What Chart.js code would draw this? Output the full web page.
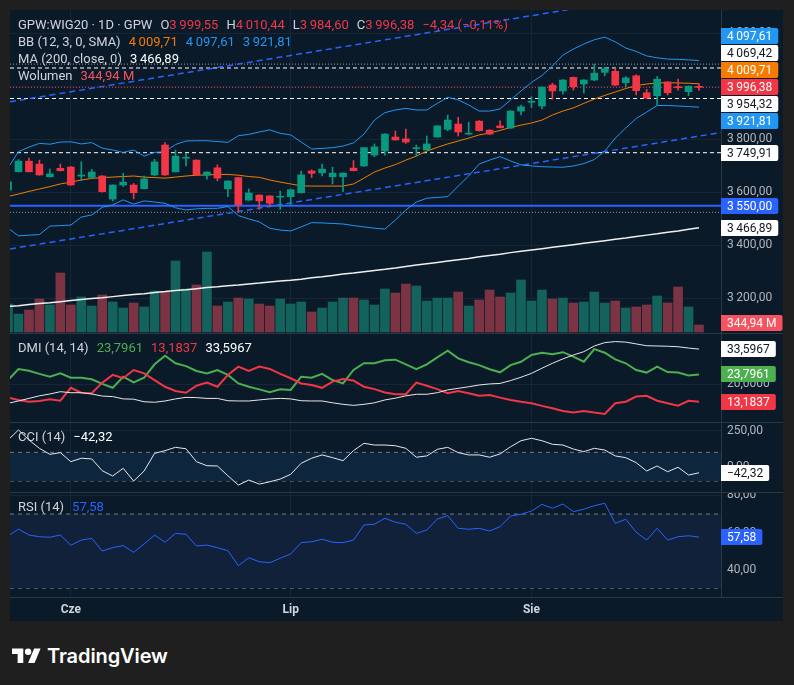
<!DOCTYPE html>
<html>
<head>
<meta charset="utf-8">
<script src="https://cdn.jsdelivr.net/npm/chart.js@4.4.1/dist/chart.umd.min.js"></script>
<style>
html,body{margin:0;padding:0;width:794px;height:685px;overflow:hidden;background:#1f1f1f;font-family:Roboto,"Noto Sans",sans-serif}
#panel{position:absolute;left:10px;top:10px;width:773px;height:611px;background:#0b1a29}
canvas.pane{position:absolute;left:10px}
.sep{position:absolute;left:10px;width:773px;height:1px;background:#2a3846}
.lg{position:absolute;left:18px;height:16px;line-height:16px;font-size:13px;color:#d1d4dc;white-space:nowrap}
.lg .k{margin-left:8px}
.lg .v{margin-left:8px}
#logo{position:absolute;left:12px;top:644px;height:24px;display:flex;align-items:center}
#logo span{margin-left:6px;font:600 20px Inter,"Open Sans",sans-serif;color:#fff;letter-spacing:-0.1px}
</style>
</head>
<body>
<div id="panel"></div>
<canvas id="cMain" class="pane" style="top:10px" width="773" height="323"></canvas>
<canvas id="cDmi" class="pane" style="top:334px" width="773" height="88"></canvas>
<canvas id="cCci" class="pane" style="top:423px" width="773" height="69"></canvas>
<canvas id="cRsi" class="pane" style="top:493px" width="773" height="128"></canvas>
<div class="sep" style="top:333px"></div>
<div class="sep" style="top:422px"></div>
<div class="sep" style="top:492px"></div>
<div class="sep" style="top:597px"></div>

<div class="lg" style="top:17px">GPW:WIG20 · 1D · GPW<span class="k">O</span><span id="vO" style="color:#f23645"></span><span class="k">H</span><span id="vH" style="color:#f23645"></span><span class="k">L</span><span id="vL" style="color:#f23645"></span><span class="k">C</span><span id="vC" style="color:#f23645"></span><span class="v" id="vChg" style="color:#f23645"></span></div>
<div class="lg" style="top:34px">BB (12, 3, 0, SMA)<span class="v" id="vBbM" style="color:#f57c00"></span><span class="v" id="vBbU" style="color:#2196f3"></span><span class="v" id="vBbL" style="color:#2196f3"></span></div>
<div class="lg" style="top:51px">MA (200, close, 0)<span class="v" id="vMa" style="color:#ffffff"></span></div>
<div class="lg" style="top:68px">Wolumen<span class="v" id="vVol" style="color:#f7525f"></span></div>
<div class="lg" style="top:340px">DMI (14, 14)<span class="v" id="vPdi" style="color:#4caf50"></span><span class="v" id="vMdi" style="color:#f23645"></span><span class="v" id="vAdx" style="color:#ffffff"></span></div>
<div class="lg" style="top:429px">CCI (14)<span class="v" id="vCci" style="color:#ffffff"></span></div>
<div class="lg" style="top:499px">RSI (14)<span class="v" id="vRsi" style="color:#2962ff"></span></div>

<div id="logo"><svg width="29" height="23" viewBox="0 0 36 28"><path fill="#fff" d="M14 22H7V11H0V4h14v18ZM28 22h-8l7.5-18h8L28 22Z"/><circle fill="#fff" cx="20" cy="8" r="4"/></svg><span>TradingView</span></div>

<script>
// daily candles, June - August (index = trading day)
var opens  = [3609,3678,3718,3707,3659,3691,3696,3662,3657,3662, 3575,3628,3628,3614,3666,3779,3678,3729,3722,3665, 3693,3614,3656,3571,3590,3587,3582,3584,3599,3681, 3674,3659,3659,3692,3700,3741,3756,3809,3802,3765, 3760,3809,3838,3858,3820,3869,3835,3851,3843,3907, 3940,3926,4005,3983,4034,4009,4024,4053,4057,4014, 4040,3976,3965,4017,3999,3980,3999.55];
var highs  = [3651,3724,3730,3722,3688,3707,3698,3716,3687,3664, 3629,3672,3634,3662,3725,3788,3760,3748,3723,3678, 3704,3644,3657,3613,3591,3588,3605,3613,3681,3685, 3707,3695,3674,3720,3770,3783,3822,3832,3839,3779, 3813,3852,3892,3883,3865,3871,3837,3870,3909,3930, 3961,3998,4012,4026,4036,4026,4084,4072,4068,4037, 4044,3989,4037,4018,4028,4002,4010.44];
var lows   = [3602,3677,3677,3665,3659,3681,3627,3644,3653,3601, 3568,3622,3576,3613,3662,3664,3677,3700,3665,3650, 3644,3584,3525,3570,3536,3546,3536,3553,3597,3656, 3662,3632,3603,3681,3698,3735,3741,3797,3785,3737, 3759,3808,3833,3813,3817,3831,3818,3843,3841,3892, 3920,3915,3952,3971,3986,3974,4022,4040,4003,3999, 3968,3955,3930,3968,3986,3965,3984.60];
var closes = [3640,3718,3678,3666,3670,3682,3628,3665,3677,3603, 3628,3639,3599,3651,3715,3666,3737,3731,3666,3677, 3654,3643,3553,3598,3568,3559,3585,3610,3666,3672, 3688,3673,3673,3682,3769,3772,3820,3798,3790,3768, 3783,3851,3873,3828,3823,3833,3820,3844,3907,3923, 3944,3997,3983,4024,3999,4024,4050,4067,4005,4032, 3984,3956,4027,3976,3995,4000.72,3996.38];

// volume in millions
var volume = [1380,887,1085,1627,1331,2909,1331,1726,1282,1824, 1479,1183,1430,1233,2021,1972,3500,2120,2317,3944, 1282,1479,1676,1627,1380,1282,1627,1380,1479,986, 1183,1479,1676,1676,1578,1331,2120,1923,2366,2268, 1528,1676,1676,1972,1282,1578,2071,1726,1923,2564, 1528,2071,1627,1676,1430,1479,1972,1430,1528,1183, 1233,1331,1775,1430,2219,1233,344.94];

// Bollinger (12, 3)
var bbBasis = [3585,3594,3604,3613,3622,3632,3639,3647,3653,3656, 3658,3660,3662,3658,3656,3654,3658,3662,3665,3666, 3668,3668,3665,3660,3657,3647,3639,3632,3625,3624, 3624,3624,3624,3632,3654,3677,3692,3705,3722,3737, 3756,3770,3783,3794,3805,3817,3824,3834,3845,3854, 3862,3873,3892,3907,3919,3936,3952,3966,3979,3992, 4003,4009,4013,4014,4013,4012,4009.71];
var bbUpper = [3692,3754,3771,3785,3782,3790,3791,3783,3788,3767, 3760,3751,3760,3737,3751,3754,3781,3794,3795,3795, 3792,3789,3814,3819,3828,3836,3823,3817,3790,3764, 3766,3769,3775,3787,3820,3873,3901,3911,3917,3911, 3911,3936,3959,3949,3930,3907,3907,3915,3949,3983, 4015,4041,4077,4118,4141,4160,4176,4186,4168,4145, 4132,4115,4108,4103,4102,4100,4097.61];
var bbLower = [3466,3436,3439,3441,3473,3475,3477,3507,3515,3544, 3553,3572,3556,3568,3564,3559,3542,3534,3538,3540, 3540,3547,3513,3500,3489,3465,3458,3455,3470,3486, 3485,3483,3481,3475,3470,3465,3462,3496,3534,3564, 3578,3581,3584,3624,3662,3707,3722,3735,3719,3704, 3700,3697,3696,3695,3700,3709,3724,3756,3805,3843, 3879,3903,3928,3928,3926,3924,3921.81];

// MA 200
var ma200 = [3170,3173,3177,3181,3184,3188,3192,3196,3200,3203, 3207,3211,3215,3218,3223,3226,3230,3233,3237,3241, 3244,3248,3251,3255,3258,3262,3266,3269,3273,3278, 3282,3287,3292,3296,3301,3306,3310,3315,3321,3326, 3331,3336,3341,3346,3351,3357,3362,3367,3373,3378, 3383,3388,3393,3398,3403,3408,3413,3418,3423,3428, 3434,3439,3444,3450,3455,3461,3466.89];

// DMI (14, 14)
var plusDI  = [21.6,25.9,25.2,24.0,22.9,24.2,22.5,22.5,21.9,20.1, 18.6,22.9,20.7,22.5,27.7,31.0,28.1,27.0,25.1,24.2, 25.5,23.6,20.3,19.0,18.0,16.9,18.0,17.8,22.9,22.5, 24.0,21.6,20.3,25.5,28.1,28.1,29.3,29.5,27.7,25.8, 27.7,30.4,33.0,30.0,28.5,27.4,25.8,24.6,27.4,28.7, 31.3,32.2,31.6,32.4,30.7,28.7,33.6,32.2,29.6,28.1, 25.5,24.5,26.8,24.7,24.5,23.4,23.7961];
var minusDI = [14.8,13.9,13.2,13.5,14.2,13.6,18.6,16.7,16.5,20.6, 23.6,22.3,25.5,24.2,21.6,19.0,17.4,16.7,19.4,20.6, 19.0,23.6,26.8,25.1,26.8,25.9,24.0,22.3,20.3,19.7, 18.6,21.0,22.0,21.4,19.0,18.1,16.8,16.1,16.1,20.6, 19.4,18.1,16.5,17.4,16.5,15.5,15.8,14.8,13.9,13.2, 12.6,11.6,10.7,9.6,9.0,9.6,9.0,8.5,12.6,13.2, 15.2,15.5,13.6,12.6,11.7,13.6,13.1837];
var adx     = [12.6,13.5,14.5,15.5,16.2,17.1,16.7,16.7,16.2,15.4, 15.2,14.3,14.2,13.2,13.0,13.5,14.3,14.9,14.8,14.5, 14.5,13.6,13.5,13.5,13.9,14.3,14.5,14.3,13.6,13.5, 13.5,12.8,12.2,11.8,12.2,12.8,13.9,14.6,15.5,16.1, 16.1,16.7,17.8,18.4,19.0,19.7,20.1,20.3,21.4,22.7, 24.2,26.2,28.1,29.8,31.3,32.6,34.8,36.1,36.5,36.3, 35.6,34.9,34.8,34.7,34.5,34.0,33.5967];

// CCI (14)
var cci = [186,256,186,128,86,98,35,59,54,-28, -65,-11,-100,-30,93,112,135,125,35,7, 5,-63,-128,-93,-121,-105,-86,-53,24,59, 82,63,42,112,163,151,151,146,128,66, 75,121,135,98,82,82,66,89,139,181, 198,181,156,151,123,105,128,116,75,63, 28,-30,5,-35,-4,-58,-42.32];

// RSI (14)
var rsi = [58.2,61.9,58.7,57.8,57.5,58.7,53.2,56.0,56.9,50.1, 51.9,53.0,49.4,53.9,58.7,54.8,59.6,59.1,52.8,53.3, 51.9,50.3,42.2,46.5,44.3,43.8,46.2,48.5,54.6,55.1, 56.4,54.8,54.6,56.0,64.1,64.5,67.7,65.6,64.5,59.6, 61.4,67.3,69.1,62.3,61.8,62.3,60.9,63.2,68.9,69.9, 71.6,75.2,73.1,75.4,71.3,72.6,74.5,75.8,65.0,67.2, 60.2,56.0,62.3,56.0,57.8,58.3,57.58];

// drawings: horizontal levels and a rising channel (price at left / right edge)
var whiteLevels = [4069.42, 3954.32, 3749.91];
var blueLevel = 3550;
var channelTop = [3942, 4385];
var channelBottom = [3387, 3826];

// time axis
var monthIdx = [6, 27, 50];
var monthNames = ['Cze', 'Lip', 'Sie'];

// price axis ticks
var mainTicks = [3200, 3400, 3600, 3800, 4000, 4200];
var dmiTicks = [20];
var cciTicks = [0, 250];
var rsiTicks = [40, 60, 80];

var FONT = 'Roboto, "Noto Sans", sans-serif';
var GRID = '#172636';
var SEP = '#2a3846';
var UP = '#089981', DOWN = '#f23645';
var xMin = 0.19, xMax = 68.1;
var last = closes.length - 1;

function fmt(v, d) {
    var neg = v < 0;
    var parts = Math.abs(v).toFixed(d).split('.');
    var a = parts[0].replace(/\B(?=(\d{3})+(?!\d))/g, '\u2009');
    return (neg ? '\u2212' : '') + a + (parts[1] !== undefined ? ',' + parts[1] : '');
}

// legend values
document.getElementById('vO').textContent = fmt(opens[last], 2);
document.getElementById('vH').textContent = fmt(highs[last], 2);
document.getElementById('vL').textContent = fmt(lows[last], 2);
document.getElementById('vC').textContent = fmt(closes[last], 2);
var chg = closes[last] - closes[last - 1];
document.getElementById('vChg').textContent = fmt(chg, 2) + ' (' + fmt(chg / closes[last - 1] * 100, 2) + '%)';
document.getElementById('vBbM').textContent = fmt(bbBasis[last], 2);
document.getElementById('vBbU').textContent = fmt(bbUpper[last], 2);
document.getElementById('vBbL').textContent = fmt(bbLower[last], 2);
document.getElementById('vMa').textContent = fmt(ma200[last], 2);
document.getElementById('vVol').textContent = fmt(volume[last], 2) + ' M';
document.getElementById('vPdi').textContent = fmt(plusDI[last], 4);
document.getElementById('vMdi').textContent = fmt(minusDI[last], 4);
document.getElementById('vAdx').textContent = fmt(adx[last], 4);
document.getElementById('vCci').textContent = fmt(cci[last], 2);
document.getElementById('vRsi').textContent = fmt(rsi[last], 2);

Chart.defaults.font.family = FONT;

function timeScale(showLabels) {
    return {
        type: 'linear', min: xMin, max: xMax, offset: false,
        grid: { color: GRID, drawTicks: false, offset: false },
        border: { display: false },
        ticks: {
            display: showLabels, color: '#d1d4dc', padding: 6, maxRotation: 0, autoSkip: false,
            font: { size: 12, weight: 'bold', family: FONT },
            callback: function(v) { return monthNames[monthIdx.indexOf(v)]; }
        },
        afterBuildTicks: function(s) { s.ticks = monthIdx.map(function(v) { return { value: v }; }); },
        afterFit: function(s) { s.height = showLabels ? 24 : 0; s.paddingLeft = 0; s.paddingRight = 0; }
    };
}

function priceScale(min, max, ticks, dec) {
    return {
        position: 'right', min: min, max: max,
        grid: { color: GRID, drawTicks: false },
        border: { display: true, color: SEP },
        ticks: {
            color: '#b2b5be', padding: 6, autoSkip: false,
            font: { size: 12, family: FONT },
            callback: function(v) { return fmt(v, dec); }
        },
        afterBuildTicks: function(s) { s.ticks = ticks.map(function(v) { return { value: v }; }); },
        afterFit: function(s) { s.width = 62; s.paddingTop = 0; s.paddingBottom = 0; }
    };
}

function series(vals, color, width, extra) {
    var ds = {
        type: 'line', data: vals.map(function(v, i) { return { x: i, y: v }; }),
        borderColor: color, borderWidth: width, pointRadius: 0, tension: 0, fill: false, order: 3
    };
    return Object.assign(ds, extra || {});
}

function hline(v, color, width, dash, extra) {
    var ds = {
        type: 'line', data: [{ x: xMin, y: v }, { x: xMax, y: v }],
        borderColor: color, borderWidth: width, borderDash: dash || [], pointRadius: 0, fill: false, order: 4
    };
    return Object.assign(ds, extra || {});
}

// coloured value boxes on the price axis
function boxLabels(getItems) {
    return {
        id: 'boxLabels',
        afterDraw: function(chart) {
            var list = getItems(chart);
            var ctx = chart.ctx, area = chart.chartArea;
            list.sort(function(a, b) { return a.y - b.y; });
            var k = list.findIndex(function(l) { return l.anchor; });
            if (k >= 0) {
                for (var j = k - 1; j >= 0; j--) list[j].y = Math.min(list[j].y, list[j + 1].y - 17);
                for (var j2 = k + 1; j2 < list.length; j2++) list[j2].y = Math.max(list[j2].y, list[j2 - 1].y + 17);
            }
            ctx.save();
            ctx.font = '12px ' + FONT;
            ctx.textBaseline = 'middle';
            list.forEach(function(l) {
                var w = ctx.measureText(l.text).width + 12;
                ctx.fillStyle = l.bg;
                ctx.beginPath();
                ctx.roundRect(area.right, Math.round(l.y) - 8, w, 16, [0, 2, 2, 0]);
                ctx.fill();
                ctx.fillStyle = l.fg;
                ctx.fillText(l.text, area.right + 6, Math.round(l.y) + 0.5);
            });
            ctx.restore();
        }
    };
}

function baseOptions(scales) {
    return {
        responsive: false, animation: false, events: [],
        layout: { padding: 0 },
        plugins: { legend: { display: false }, tooltip: { enabled: false } },
        scales: scales
    };
}

var isUp = closes.map(function(c, i) { return c >= opens[i]; });
var candleColors = isUp.map(function(u) { return u ? UP : DOWN; });
var volColors = isUp.map(function(u) { return u ? '#13625c' : '#7c3444'; });
var hiMax = Math.max.apply(null, highs);
var loMin = Math.min.apply(null, lows);

// main pane
new Chart(document.getElementById('cMain'), {
    type: 'bar',
    data: {
        datasets: [
            { type: 'bar', yAxisID: 'yv', data: volume.map(function(v, i) { return { x: i, y: v }; }),
              backgroundColor: volColors, barThickness: 9, grouped: false, order: 10 },
            series(bbUpper, '#2196f3', 1),
            series(bbLower, '#2196f3', 1),
            series(bbBasis, '#f57c00', 1),
            series(ma200, '#f0f0f0', 1.5),
            { type: 'line', data: [{ x: xMin, y: channelTop[0] }, { x: xMax, y: channelTop[1] }],
              borderColor: '#2962ff', borderWidth: 1.5, borderDash: [6, 4], pointRadius: 0, fill: false, order: 4 },
            { type: 'line', data: [{ x: xMin, y: channelBottom[0] }, { x: xMax, y: channelBottom[1] }],
              borderColor: '#2962ff', borderWidth: 1.5, borderDash: [6, 4], pointRadius: 0, fill: false, order: 4 },
            hline(whiteLevels[0], '#ffffff', 1, [4, 3]),
            hline(whiteLevels[1], '#ffffff', 1, [4, 3]),
            hline(whiteLevels[2], '#ffffff', 1, [4, 3]),
            hline(hiMax, '#9598a1', 1, [1, 2]),
            hline(loMin, '#9598a1', 1, [1, 2]),
            hline(blueLevel, '#2962ff', 2, []),
            hline(closes[last], '#f23645', 1, [1, 2]),
            { type: 'bar', data: lows.map(function(l, i) { return { x: i, y: [l, highs[i]] }; }),
              backgroundColor: candleColors, barThickness: 1, grouped: false, order: 1 },
            { type: 'bar', data: opens.map(function(o, i) { return { x: i, y: [o, closes[i]] }; }),
              backgroundColor: candleColors, barThickness: 7, minBarLength: 1, grouped: false, order: 0 }
        ]
    },
    options: baseOptions({
        x: timeScale(false),
        y: priceScale(3069.8, 4288.2, mainTicks, 2),
        yv: { display: false, min: -49.3, max: 15875 }
    }),
    plugins: [boxLabels(function(chart) {
        var y = chart.scales.y, yv = chart.scales.yv;
        var white = '#ffffff', dark = '#131722';
        var items = [
            { y: y.getPixelForValue(bbUpper[last]), text: fmt(bbUpper[last], 2), bg: '#2196f3', fg: white },
            { y: y.getPixelForValue(whiteLevels[0]), text: fmt(whiteLevels[0], 2), bg: white, fg: dark },
            { y: y.getPixelForValue(bbBasis[last]), text: fmt(bbBasis[last], 2), bg: '#f57c00', fg: white },
            { y: y.getPixelForValue(closes[last]), text: fmt(closes[last], 2), bg: '#f23645', fg: white, anchor: true },
            { y: y.getPixelForValue(whiteLevels[1]), text: fmt(whiteLevels[1], 2), bg: white, fg: dark },
            { y: y.getPixelForValue(bbLower[last]), text: fmt(bbLower[last], 2), bg: '#2196f3', fg: white },
            { y: y.getPixelForValue(whiteLevels[2]), text: fmt(whiteLevels[2], 2), bg: white, fg: dark },
            { y: y.getPixelForValue(blueLevel), text: fmt(blueLevel, 2), bg: '#2962ff', fg: white },
            { y: y.getPixelForValue(ma200[last]), text: fmt(ma200[last], 2), bg: white, fg: dark }
        ];
        var vy = Math.min(yv.getPixelForValue(volume[last]), chart.chartArea.bottom - 10);
        items.push({ y: vy, text: fmt(volume[last], 2) + ' M', bg: '#f7525f', fg: white });
        return items;
    })]
});

// DMI pane
new Chart(document.getElementById('cDmi'), {
    type: 'line',
    data: { datasets: [
        series(adx, '#e8e8e8', 1),
        series(minusDI, '#f23645', 2),
        series(plusDI, '#4caf50', 2)
    ] },
    options: baseOptions({ x: timeScale(false), y: priceScale(5.36, 39.44, dmiTicks, 4) }),
    plugins: [boxLabels(function(chart) {
        var y = chart.scales.y;
        return [
            { y: y.getPixelForValue(adx[last]), text: fmt(adx[last], 4), bg: '#ffffff', fg: '#131722' },
            { y: y.getPixelForValue(plusDI[last]), text: fmt(plusDI[last], 4), bg: '#4caf50', fg: '#ffffff' },
            { y: y.getPixelForValue(minusDI[last]), text: fmt(minusDI[last], 4), bg: '#f23645', fg: '#ffffff' }
        ];
    })]
});

// CCI pane
new Chart(document.getElementById('cCci'), {
    type: 'line',
    data: { datasets: [
        hline(100, '#787b86', 1, [4, 4], { fill: { value: -100 }, backgroundColor: '#0d263d', order: 5 }),
        hline(-100, '#787b86', 1, [4, 4], { order: 5 }),
        series(cci, '#e8e8e8', 1)
    ] },
    options: baseOptions({ x: timeScale(false), y: priceScale(-176.3, 304.5, cciTicks, 2) }),
    plugins: [boxLabels(function(chart) {
        var y = chart.scales.y;
        return [{ y: y.getPixelForValue(cci[last]), text: fmt(cci[last], 2), bg: '#ffffff', fg: '#131722' }];
    })]
});

// RSI pane with the time axis
new Chart(document.getElementById('cRsi'), {
    type: 'line',
    data: { datasets: [
        hline(70, '#787b86', 1, [4, 4], { fill: { value: 30 }, backgroundColor: '#12213a', order: 5 }),
        hline(50, '#787b86', 1, [4, 4], { order: 5 }),
        hline(30, '#787b86', 1, [4, 4], { order: 5 }),
        series(rsi, '#2962ff', 1)
    ] },
    options: baseOptions({ x: timeScale(true), y: priceScale(25.35, 81.32, rsiTicks, 2) }),
    plugins: [boxLabels(function(chart) {
        var y = chart.scales.y;
        return [{ y: y.getPixelForValue(rsi[last]), text: fmt(rsi[last], 2), bg: '#2962ff', fg: '#ffffff' }];
    })]
});
</script>
</body>
</html>
